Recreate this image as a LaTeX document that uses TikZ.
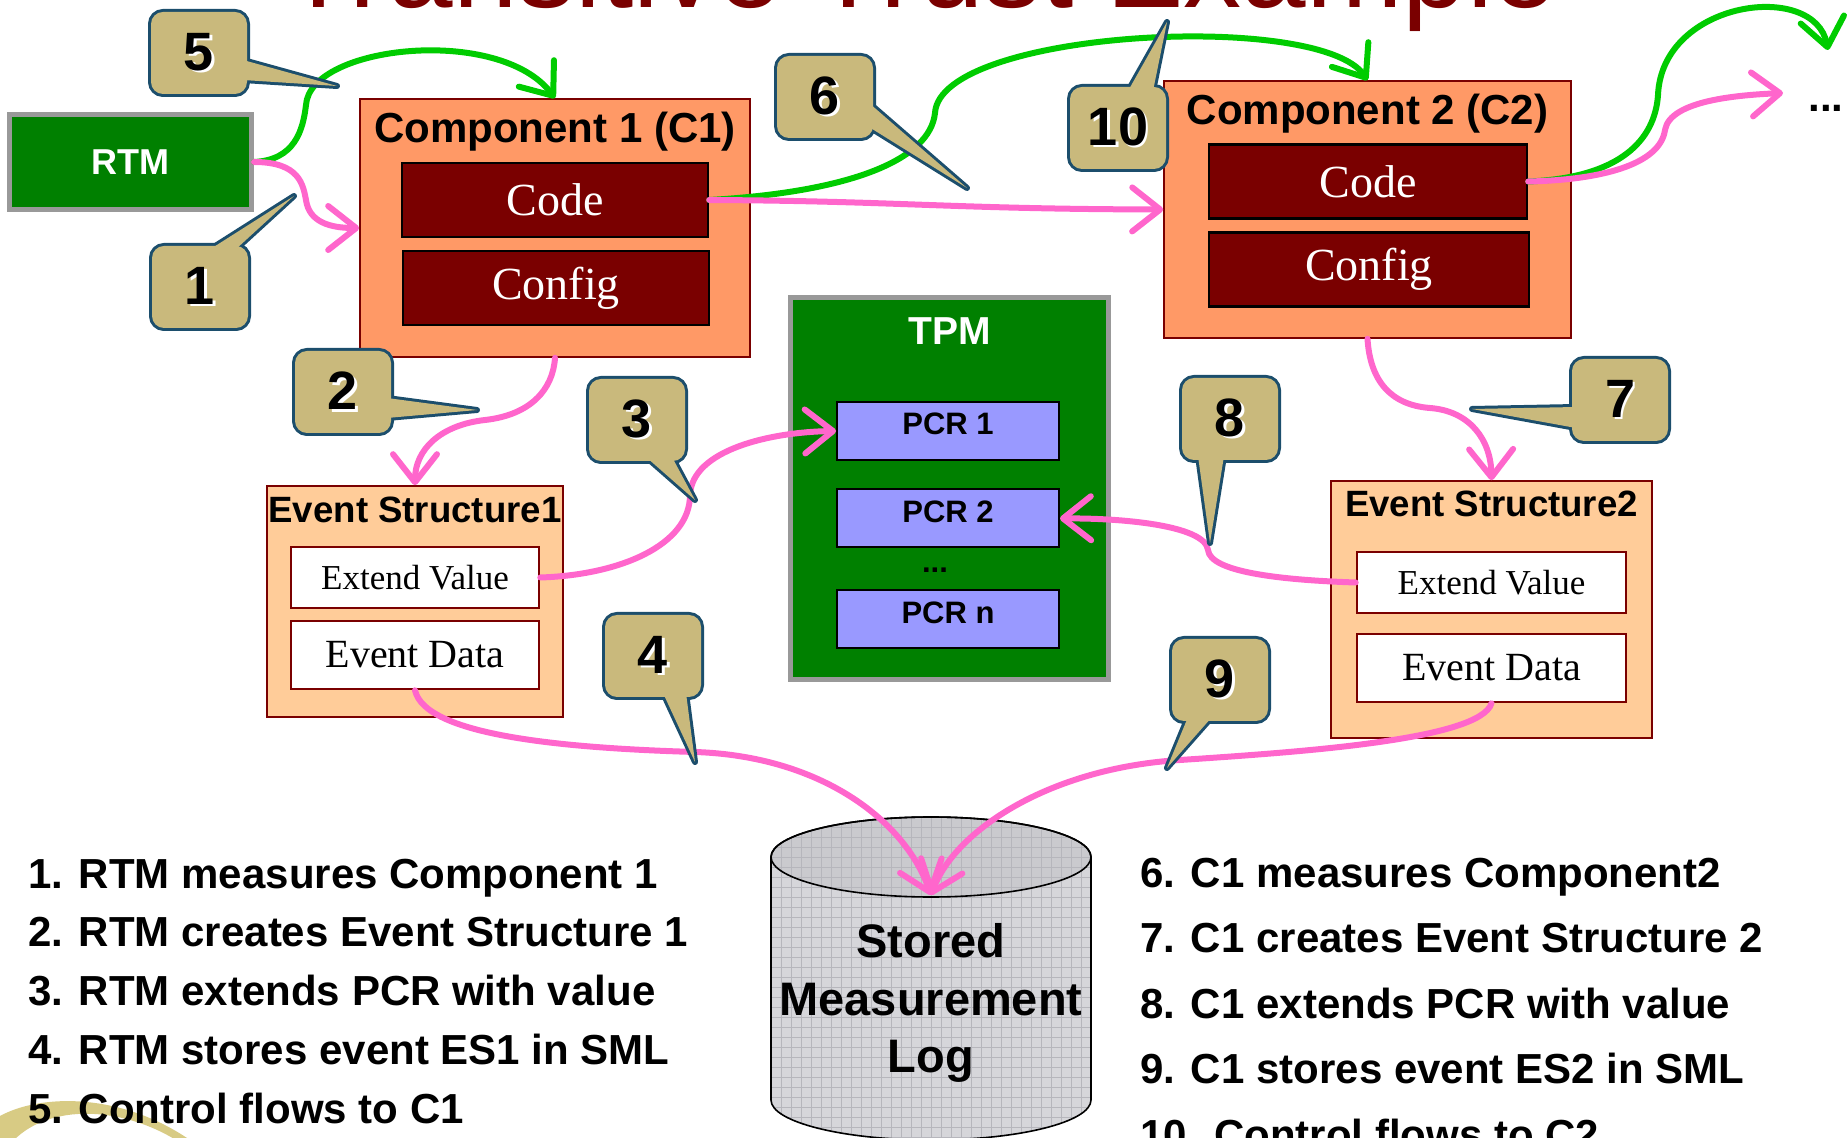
\documentclass[tikz,border=0pt]{standalone}
\usepackage{fontspec}
\setmainfont{Liberation Serif}
\setsansfont{Liberation Sans}
\usepackage{tikz}
\usetikzlibrary{arrows.meta}
\usetikzlibrary{calc}
\definecolor{bordeaux}{RGB}{122,0,0}
\definecolor{arancio}{RGB}{255,153,102}
\definecolor{pesca}{RGB}{255,204,153}
\definecolor{lilla}{RGB}{153,153,255}
\definecolor{verde}{RGB}{0,128,0}
\definecolor{verdechiaro}{RGB}{0,204,0}
\definecolor{rosa}{RGB}{255,102,204}
\definecolor{cachi}{RGB}{201,185,124}
\definecolor{bluscuro}{RGB}{28,78,108}
\definecolor{grigio}{RGB}{153,153,153}
\definecolor{cilindro}{RGB}{214,214,218}
\definecolor{cilindrotop}{RGB}{202,202,206}
\definecolor{griglia}{RGB}{182,182,188}
\definecolor{oro}{RGB}{216,203,132}
\newcommand{\sz}[1]{\fontsize{#1}{#1}\selectfont}
\newcommand{\ombra}[1]{\makebox[0pt][l]{\hspace{1.2pt}\raisebox{-1.2pt}{\color{white}#1}}#1}
\newcommand{\smlsagoma}{(771,857) .. controls (771,835) and (843,817) .. (931,817)
    .. controls (1019,817) and (1091,835) .. (1091,857) -- (1091,1100)
    .. controls (1091,1122) and (1019,1140) .. (931,1140)
    .. controls (843,1140) and (771,1122) .. (771,1100) -- cycle}
\newcommand{\smlcoperchio}{(771,857) .. controls (771,835) and (843,817) .. (931,817)
    .. controls (1019,817) and (1091,835) .. (1091,857)
    .. controls (1091,879) and (1019,897) .. (931,897)
    .. controls (843,897) and (771,879) .. (771,857) -- cycle}
\tikzset{
  trust/.style={x=0.5pt, y=-0.5pt},
  green box/.style={rectangle, fill=verde, draw=grigio, line width=2.5pt, inner sep=0pt},
  component box/.style={rectangle, fill=arancio, draw=bordeaux, line width=0.8pt, inner sep=0pt},
  code box/.style={rectangle, fill=bordeaux, draw=black, line width=1.2pt, inner sep=0pt,
    minimum height=37pt, text=white, font=\rmfamily\sz{23pt}},
  event box/.style={rectangle, fill=pesca, draw=bordeaux, line width=0.8pt, inner sep=0pt},
  field box/.style={rectangle, fill=white, draw=bordeaux, line width=1.3pt, inner sep=0pt},
  pcr box/.style={rectangle, fill=lilla, draw=black, line width=1pt, inner sep=0pt,
    minimum width=111pt, minimum height=29pt, text depth=7pt, font=\sffamily\bfseries\sz{15.5pt}},
  box title/.style={anchor=base, inner sep=0pt, font=\sffamily\bfseries\sz{21pt}},
  event title/.style={anchor=base, inner sep=0pt, font=\sffamily\bfseries\sz{18.3pt}},
  bubble/.style={rectangle, rounded corners=6pt, minimum width=48pt, minimum height=41pt,
    inner sep=0pt, font=\sffamily\bfseries\sz{27pt}},
  bubble tail/.style={draw=bluscuro, line width=3pt, line join=round},
  list item/.style={anchor=base west, inner sep=0pt, font=\sffamily\bfseries\sz{21pt}},
  flow/.style={line width=3pt, line cap=round, -{Straight Barb[length=14pt,width=22pt,round]}},
  control flow/.style={flow, draw=verdechiaro},
  measure flow/.style={flow, draw=rosa},
}
\begin{document}
\begin{tikzpicture}[trust]
\useasboundingbox (0,0) rectangle (1848,1138);
\clip (0,0) rectangle (1848,1138);

% title, cut by the page
\node[anchor=base west, inner sep=0pt, text=bordeaux, font=\sffamily\sz{58pt}] (titolo) at (283,8) {Transitive Trust Example};
\fill[oro] (0,1116) .. controls (40,1094) and (120,1092) .. (190,1140) -- (176,1140)
    .. controls (120,1106) and (50,1104) .. (14,1140) -- (0,1140) -- cycle;

% stored measurement log
\fill[cilindro] \smlsagoma;
\fill[cilindrotop] \smlcoperchio;
\begin{scope}
  \clip \smlsagoma;
  \foreach \gx in {771,781,...,1091} \draw[griglia, line width=0.4pt] (\gx,817) -- (\gx,1140);
  \foreach \gy in {817,827,...,1140} \draw[griglia, line width=0.4pt] (771,\gy) -- (1091,\gy);
\end{scope}
\draw[line width=0.8pt] \smlsagoma;
\draw[line width=0.8pt] \smlcoperchio;
\node[font=\sffamily\bfseries\fontsize{23.5pt}{28.75pt}\selectfont, align=center, inner sep=0pt] (sml) at (931,1003) {Stored\\Measurement\\Log};
\coordinate (smlin) at (931,895);

% RTM and components
\node[green box, minimum width=121pt, minimum height=47.5pt, text=white, font=\sffamily\bfseries\sz{18pt}] (rtm) at (130.5,162) {RTM};
\node[component box, minimum width=195pt, minimum height=129pt] (comp1) at (555,228) {};
\node[box title] (comp1title) at ($(comp1.north)+(0,44)$) {Component 1 (C1)};
\node[code box, minimum width=153pt] (code1) at (555,200) {Code};
\node[code box, minimum width=153pt] (config1) at (556,288) {Config};
\node[component box, minimum width=203.5pt, minimum height=128.5pt] (comp2) at (1367.5,209.5) {};
\node[box title] (comp2title) at ($(comp2.north)+(0,44)$) {Component 2 (C2)};
\node[code box, minimum width=159pt] (code2) at (1368,181.5) {Code};
\node[code box, minimum width=160pt] (config2) at (1369,269.5) {Config};

% TPM
\node[green box, minimum width=159pt, minimum height=191pt] (tpm) at (949.5,488.5) {};
\node[box title, text=white, font=\sffamily\bfseries\sz{19.5pt}] (tpmtitle) at ($(tpm.north)+(0,50)$) {TPM};
\node[pcr box] (pcr1) at (948,431) {PCR 1};
\node[pcr box] (pcr2) at (948,518.5) {PCR 2};
\node[anchor=base, inner sep=0pt, font=\sffamily\bfseries\sz{15.5pt}] (pcrdots) at (935,573) {...};
\node[pcr box] (pcrn) at (948,619.5) {PCR n};

% event structures
\node[event box, minimum width=148pt, minimum height=115.5pt] (es1) at (415,601.5) {};
\node[event title] (es1title) at ($(es1.north)+(0,37)$) {Event Structure1};
\node[field box, minimum width=124pt, minimum height=30.5pt, font=\rmfamily\sz{17.5pt}] (ev1) at (415,577.5) {Extend Value};
\node[field box, minimum width=124pt, minimum height=34pt, font=\rmfamily\sz{20pt}] (ed1) at (415,655) {Event Data};
\node[event box, minimum width=160.5pt, minimum height=128.5pt] (es2) at (1491.5,609.5) {};
\node[event title] (es2title) at ($(es2.north)+(0,36)$) {Event Structure2};
\node[field box, minimum width=134.5pt, minimum height=30.5pt, font=\rmfamily\sz{17.5pt}] (ev2) at (1491.5,582.5) {Extend Value};
\node[field box, minimum width=134.5pt, minimum height=34pt, font=\rmfamily\sz{20pt}] (ed2) at (1491.5,668) {Event Data};

\node[anchor=base west, inner sep=0pt, font=\sffamily\bfseries\sz{21pt}] (altro) at (1808,112) {...};
\coordinate (verdefine) at (1828,50);
\coordinate (rosafine) at (1783,93);

% flows
\draw[control flow] (rtm.east) .. controls (295,160) and (303,130) .. (306,105)
    .. controls (310,45) and (500,25) .. (comp1.north);
\draw[measure flow] (rtm.east) .. controls (300,162) and (303,185) .. (306,200)
    .. controls (309,222) and (330,228) .. (comp1.west);
\draw[control flow] (code1.east) .. controls (850,192) and (930,160) .. (935,113)
    .. controls (940,30) and (1320,10) .. (comp2.north);
\draw[measure flow] (code1.east) .. controls (900,201) and (950,209) .. (comp2.west);
\draw[control flow] (code2.east) .. controls (1620,178) and (1655,140) .. (1658,95)
    .. controls (1662,0) and (1815,-20) .. (verdefine);
\draw[measure flow] (code2.east) .. controls (1600,180) and (1660,165) .. (1665,130)
    .. controls (1670,100) and (1740,95) .. (rosafine);
\draw[measure flow] (comp1.south) .. controls (553,390) and (530,415) .. (485,420)
    .. controls (440,425) and (415,450) .. (es1.north);
\draw[measure flow] (ev1.east) .. controls (620,575) and (690,545) .. (690,495)
    .. controls (692,450) and (770,432) .. (pcr1.west);
\draw[measure flow] (ed1.south) .. controls (425,735) and (560,748) .. (695,752)
    .. controls (820,756) and (905,820) .. (smlin);
\draw[measure flow] (comp2.south) .. controls (1370,380) and (1390,405) .. (1430,408)
    .. controls (1470,411) and (1491,440) .. (es2.north);
\draw[measure flow] (ev2.west) .. controls (1280,580) and (1210,572) .. (1208,550)
    .. controls (1205,525) and (1120,518) .. (pcr2.east);
\draw[measure flow] (ed2.south) .. controls (1480,740) and (1300,752) .. (1180,760)
    .. controls (1050,768) and (955,830) .. (smlin);

% numbered bubbles
\foreach \n/\cx/\cy/\ax/\ay/\bx/\by/\tx/\ty in {
    5/199/53/44/7/44/27/337/86,
    1/200/287/9/-37/35/-37/294/196,
    6/825/97/44/6/44/30/967/188,
    10/1118/128/10/-37/35/-37/1167/22,
    2/343/392/44/6/44/26/477/410,
    3/637/420/9/37/35/37/695/500,
    4/653/656/10/37/33/37/695/762,
    7/1620/400/-44/7/-44/28/1472/409,
    8/1230/419/-32/37/-6/37/1210/543,
    9/1220/680/-32/37/-8/37/1167/768}
{
    \node[bubble, draw=bluscuro, line width=3pt] (c\n) at (\cx,\cy) {};
    \coordinate (t\n) at (\tx,\ty);
    \path[bubble tail] ($(c\n)+(\ax,\ay)$) -- (t\n) -- ($(c\n)+(\bx,\by)$) -- cycle;
    \fill[cachi] ($(c\n)+(\ax,\ay)$) -- (t\n) -- ($(c\n)+(\bx,\by)$) -- cycle;
    \node[bubble, fill=cachi] at (c\n) {\ombra{\n}};
}

% legend of the steps
\foreach \t [count=\i] in {RTM measures Component 1, RTM creates Event Structure 1,
    RTM extends PCR with value, RTM stores event ES1 in SML, Control flows to C1}
    \node[list item] (passo\i) at (28,{888+58.75*(\i-1)}) {\i. \t};
\foreach \t [count=\i from 6] in {C1 measures Component2, C1 creates Event Structure 2,
    C1 extends PCR with value, C1 stores event ES2 in SML, Control flows to C2}
    \node[list item] (passo\i) at (1140,{887+65.5*(\i-6)}) {\i. \t};
\end{tikzpicture}
\end{document}
